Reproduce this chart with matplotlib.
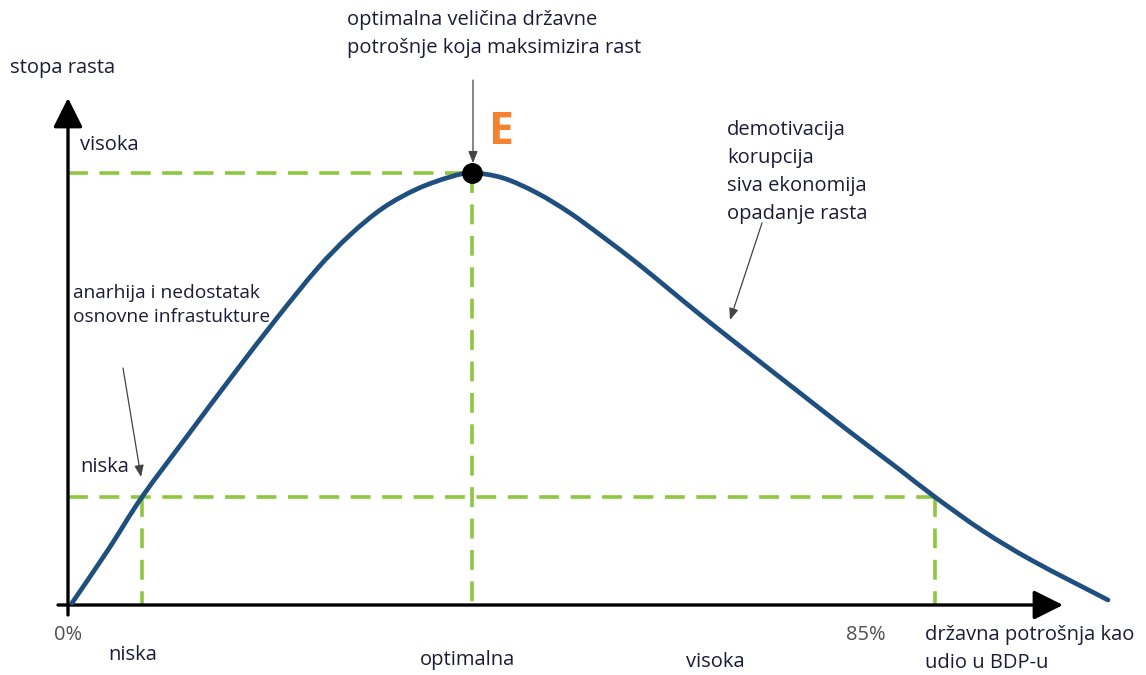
import matplotlib.pyplot as plt
from matplotlib.path import Path
from matplotlib.patches import PathPatch

# curve (units: pixels from the origin, x right, y up)
curve_x = [4, 40, 74, 120, 165, 209, 249, 282, 315, 349, 382, 404, 435, 469, 502,
           535, 569, 602, 635, 682, 732, 782, 832, 867, 915, 965, 1040]
curve_y = [2, 55, 108, 170, 230, 287, 336, 370, 397, 416, 428, 432, 427, 412, 392,
           368, 342, 315, 288, 251, 212, 173, 135, 108, 74, 44, 5]

# reference levels
peak = (404, 432)          # point E
low_y = 108                # "niska" level of growth
low_left_x = 74
low_right_x = 867

green = '#8dc63f'
blue = '#1f4f7f'
ink = '#1c1c38'
gray = '#505050'

plt.rcParams['font.family'] = ['Open Sans', 'DejaVu Sans']

fig = plt.figure(figsize=(11.46, 6.75), dpi=100)
ax = fig.add_axes([0, 0, 1, 1])
ax.set_xlim(-68, 1078)
ax.set_ylim(-70, 605)
ax.axis('off')

dash = dict(color=green, lw=2.6, dashes=(5.5, 3.2), zorder=2)
ax.plot([0, peak[0]], [peak[1], peak[1]], **dash)
ax.plot([peak[0], peak[0]], [peak[1], 0], **dash)
ax.plot([0, low_right_x], [low_y, low_y], **dash)
ax.plot([low_left_x, low_left_x], [low_y, 0], **dash)
ax.plot([low_right_x, low_right_x], [low_y, 0], **dash)

# axes with arrow heads
axis_arrow = dict(arrowstyle='-|>,head_length=0.9,head_width=0.45', color='black',
                  lw=2.4, mutation_scale=20, shrinkA=0, shrinkB=0)
ax.annotate('', xy=(0, 507), xytext=(0, -10), arrowprops=axis_arrow, zorder=3)
ax.annotate('', xy=(995, 0), xytext=(-10, 0), arrowprops=axis_arrow, zorder=3)

# smooth curve through the read points (bezier segments, catmull-rom style)
pts = list(zip(curve_x, curve_y))
verts = [pts[0]]
codes = [Path.MOVETO]
for i in range(len(pts) - 1):
    p0 = pts[max(i - 1, 0)]
    p1 = pts[i]
    p2 = pts[i + 1]
    p3 = pts[min(i + 2, len(pts) - 1)]
    c1 = (p1[0] + (p2[0] - p0[0]) / 6, p1[1] + (p2[1] - p0[1]) / 6)
    c2 = (p2[0] - (p3[0] - p1[0]) / 6, p2[1] - (p3[1] - p1[1]) / 6)
    verts += [c1, c2, p2]
    codes += [Path.CURVE4] * 3
ax.add_patch(PathPatch(Path(verts, codes), fill=False, edgecolor=blue, lw=3.4,
                       capstyle='round', zorder=4))
ax.plot(*peak, 'o', color='black', ms=14, zorder=5)

# pointer arrows
thin = dict(arrowstyle='-|>,head_length=0.5,head_width=0.2', color='#444444',
            lw=0.9, mutation_scale=14, shrinkA=0, shrinkB=0)
ax.annotate('', xy=(405, 442), xytext=(405, 525), arrowprops=thin)
ax.annotate('', xy=(73, 128), xytext=(55, 237), arrowprops=thin)
ax.annotate('', xy=(662, 285), xytext=(694, 382), arrowprops=thin)

fs = 14.5
ls = 1.55
ax.text(-58, 537, 'stopa rasta', fontsize=fs, color=ink, va='center')
ax.text(12, 460, 'visoka', fontsize=fs, color=ink, va='center')
ax.text(12, 138, 'niska', fontsize=fs, color=ink, va='center')
ax.text(279, 571, 'optimalna veličina državne\npotrošnje koja maksimizira rast',
        fontsize=fs, color=ink, va='center', linespacing=ls)
ax.text(421, 473, 'E', fontsize=32, color='#f5822f', fontweight='bold', va='center')
ax.text(659, 433, 'demotivacija\nkorupcija\nsiva ekonomija\nopadanje rasta',
        fontsize=fs, color=ink, va='center', linespacing=ls)
ax.text(5, 300, 'anarhija i nedostatak\nosnovne infrastukture', fontsize=13.8,
        color=ink, va='center', linespacing=1.42)

ax.text(0, -30, '0%', fontsize=fs, color=gray, ha='center', va='center')
ax.text(798, -30, '85%', fontsize=fs, color=gray, ha='center', va='center')
ax.text(40, -50, 'niska', fontsize=fs, color=ink, va='center')
ax.text(352, -55, 'optimalna', fontsize=fs, color=ink, va='center')
ax.text(618, -57, 'visoka', fontsize=fs, color=ink, va='center')
ax.text(857, -44, 'državna potrošnja kao\nudio u BDP-u', fontsize=fs, color=ink,
        va='center', linespacing=ls)

fig.savefig('out.png', dpi=100)
